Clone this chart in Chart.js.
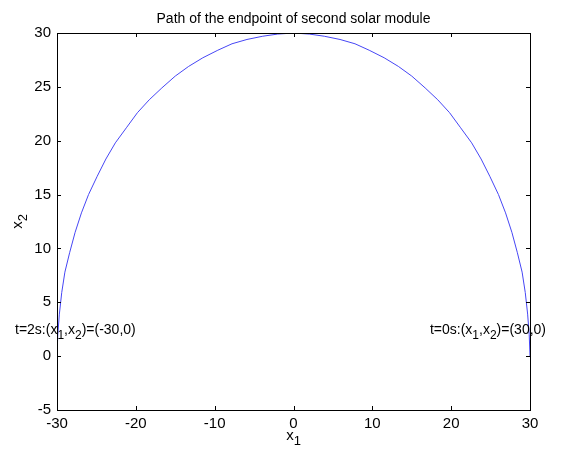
<!DOCTYPE html>
<html>
<head>
<meta charset="utf-8">
<script src="https://cdn.jsdelivr.net/npm/chart.js@4/dist/chart.umd.min.js"></script>
<style>
  body { margin: 0; background: #fff; }
  #wrap { width: 570px; height: 450px; }
</style>
</head>
<body>
<div id="wrap"><canvas id="myChart"></canvas></div>
<script>
// path points (x1, x2), from t=0s to t=2s
const x1Values = [30, 29.9, 29.7, 29.4, 29.0, 28.4, 27.7, 26.9, 26.0, 24.9, 23.8, 22.6, 21.2,
                  19.8, 18.3, 16.7, 15.0, 13.3, 11.5, 9.6, 7.8, 5.9, 3.9, 2.0, 0,
                  -2.0, -3.9, -5.9, -7.8, -9.6, -11.5, -13.3, -15.0, -16.7, -18.3, -19.8,
                  -21.2, -22.6, -23.8, -24.9, -26.0, -26.9, -27.7, -28.4, -29.0, -29.4, -29.7, -29.9, -30];
const x2Values = [0, 2.0, 3.9, 5.9, 7.8, 9.6, 11.5, 13.3, 15.0, 16.7, 18.3, 19.8, 21.2,
                  22.6, 23.8, 24.9, 26.0, 26.9, 27.7, 28.4, 29.0, 29.4, 29.7, 29.9, 30,
                  29.9, 29.7, 29.4, 29.0, 28.4, 27.7, 26.9, 26.0, 24.9, 23.8, 22.6,
                  21.2, 19.8, 18.3, 16.7, 15.0, 13.3, 11.5, 9.6, 7.8, 5.9, 3.9, 2.0, 0];
const xTicks = [-30, -20, -10, 0, 10, 20, 30];
const yTicks = [-5, 0, 5, 10, 15, 20, 25, 30];

const points = x1Values.map((v, i) => ({ x: v, y: x2Values[i] }));
const FONT = '"Liberation Sans", Arial, sans-serif';

// draw text with subscripts: parts = [[text, isSub], ...]
function drawSub(ctx, parts, x, y, size, align) {
  let total = 0;
  parts.forEach(p => {
    ctx.font = (p[1] ? size - 2 : size) + 'px ' + FONT;
    total += ctx.measureText(p[0]).width;
  });
  let cx = align === 'center' ? x - total / 2 : (align === 'right' ? x - total : x);
  ctx.textAlign = 'left';
  ctx.textBaseline = 'alphabetic';
  parts.forEach(p => {
    ctx.font = (p[1] ? size - 2 : size) + 'px ' + FONT;
    ctx.fillText(p[0], cx, p[1] ? y + 5 : y);
    cx += ctx.measureText(p[0]).width;
  });
}

const boxPlugin = {
  id: 'boxPlugin',
  afterDraw(chart) {
    const ctx = chart.ctx;
    const a = chart.chartArea;
    const xs = chart.scales.x, ys = chart.scales.y;
    ctx.save();
    ctx.strokeStyle = '#000';
    ctx.lineWidth = 1;
    ctx.strokeRect(Math.round(a.left) + 0.5, Math.round(a.top) + 0.5,
                   Math.round(a.right - a.left), Math.round(a.bottom - a.top));
    // inward ticks
    ctx.beginPath();
    xTicks.forEach(t => {
      const px = Math.round(xs.getPixelForValue(t)) + 0.5;
      ctx.moveTo(px, a.bottom); ctx.lineTo(px, a.bottom - 4);
      ctx.moveTo(px, a.top); ctx.lineTo(px, a.top + 4);
    });
    yTicks.forEach(t => {
      const py = Math.round(ys.getPixelForValue(t)) + 0.5;
      ctx.moveTo(a.left, py); ctx.lineTo(a.left + 4, py);
      ctx.moveTo(a.right, py); ctx.lineTo(a.right - 4, py);
    });
    ctx.stroke();

    ctx.fillStyle = '#000';
    // title
    ctx.font = '14px ' + FONT;
    ctx.textAlign = 'center';
    ctx.textBaseline = 'alphabetic';
    ctx.fillText('Path of the endpoint of second solar module', (a.left + a.right) / 2, 23);

    // axis labels
    drawSub(ctx, [['x', false], ['1', true]], (a.left + a.right) / 2, 440, 15, 'center');
    ctx.save();
    ctx.translate(22, (a.top + a.bottom) / 2);
    ctx.rotate(-Math.PI / 2);
    drawSub(ctx, [['x', false], ['2', true]], 0, 0, 15, 'center');
    ctx.restore();

    // endpoint notes
    const yy = ys.getPixelForValue(2.5) + 5;
    drawSub(ctx, [['t=2s:(x', false], ['1', true], [',x', false], ['2', true], [')=(-30,0)', false]],
            15, yy, 14, 'left');
    drawSub(ctx, [['t=0s:(x', false], ['1', true], [',x', false], ['2', true], [')=(30,0)', false]],
            546, yy, 14, 'right');
    ctx.restore();
  }
};

new Chart(document.querySelector('#myChart'), {
  type: 'scatter',
  data: {
    datasets: [{
      data: points,
      showLine: true,
      borderColor: 'rgb(70,70,245)',
      borderWidth: 1,
      pointRadius: 0,
      tension: 0,
      fill: false
    }]
  },
  options: {
    responsive: true,
    maintainAspectRatio: false,
    animation: false,
    events: [],
    layout: { padding: { left: 0, right: 40, top: 33, bottom: 0 } },
    plugins: { legend: { display: false }, tooltip: { enabled: false } },
    scales: {
      x: {
        type: 'linear',
        min: -30, max: 30,
        afterBuildTicks: (s) => { s.ticks = xTicks.map(v => ({ value: v })); },
        afterFit: (s) => { s.height = 40; },
        grid: { display: false, drawTicks: false },
        border: { display: false },
        ticks: { color: '#000', font: { family: FONT, size: 15 }, padding: 5, maxRotation: 0 }
      },
      y: {
        type: 'linear',
        min: -5, max: 30,
        afterBuildTicks: (s) => { s.ticks = yTicks.map(v => ({ value: v })); },
        afterFit: (s) => { s.width = 57; },
        grid: { display: false, drawTicks: false },
        border: { display: false },
        ticks: { color: '#000', font: { family: FONT, size: 15 }, padding: 6 }
      }
    }
  },
  plugins: [boxPlugin]
});
</script>
</body>
</html>
